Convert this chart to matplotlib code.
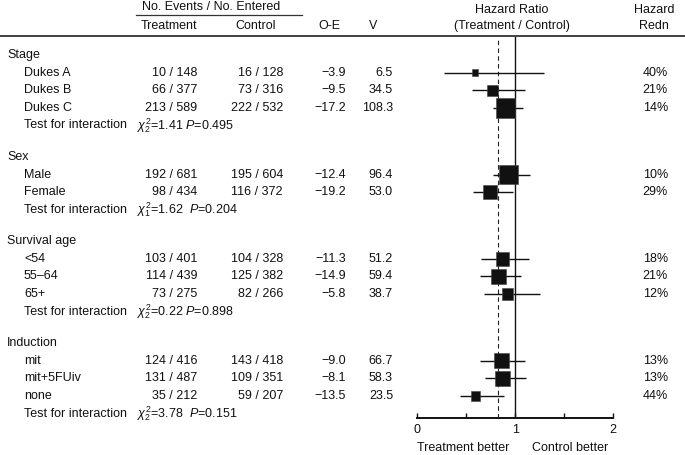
import matplotlib
matplotlib.use("Agg")
import matplotlib.pyplot as plt
import numpy as np

plt.rcParams['font.family'] = ['Liberation Sans', 'DejaVu Sans']
plt.rcParams['mathtext.fontset'] = 'custom'
plt.rcParams['mathtext.rm'] = 'Liberation Sans'
plt.rcParams['mathtext.it'] = 'Liberation Sans:italic'
plt.rcParams['mathtext.bf'] = 'Liberation Sans:bold'

# ---------------- data ----------------
groups = ["Stage", "Sex", "Survival age", "Induction"]
subgroups = [["Dukes A", "Dukes B", "Dukes C"],
             ["Male", "Female"],
             ["<54", "55–64", "65+"],
             ["mit", "mit+5FUiv", "none"]]
trt_events = [10, 66, 213, 192, 98, 103, 114, 73, 124, 131, 35]
trt_n = [148, 377, 589, 681, 434, 401, 439, 275, 416, 487, 212]
ctl_events = [16, 73, 222, 195, 116, 104, 125, 82, 143, 109, 59]
ctl_n = [128, 316, 532, 604, 372, 328, 382, 266, 418, 351, 207]
o_minus_e = [-3.9, -9.5, -17.2, -12.4, -19.2, -11.3, -14.9, -5.8, -9.0, -8.1, -13.5]
variance = [6.5, 34.5, 108.3, 96.4, 53.0, 51.2, 59.4, 38.7, 66.7, 58.3, 23.5]
hr = [0.59, 0.77, 0.90, 0.93, 0.74, 0.87, 0.83, 0.92, 0.86, 0.87, 0.59]
ci_lo = [0.27, 0.56, 0.77, 0.77, 0.57, 0.65, 0.64, 0.68, 0.64, 0.69, 0.44]
ci_hi = [1.29, 1.10, 1.08, 1.15, 0.98, 1.14, 1.06, 1.25, 1.10, 1.11, 0.88]
redn = [40, 21, 14, 10, 29, 18, 21, 12, 13, 13, 44]
test_df = [2, 1, 2, 2]
test_chi = [1.41, 1.62, 0.22, 3.78]
test_p = [0.495, 0.204, 0.898, 0.151]
test_sep = [" ", "  ", " ", "  "]
overall_hr = 0.82
xticks_major = [0, 1, 2]
xticks_minor = [0.5, 1.5]

# ---------------- layout ----------------
W, H = 685, 455
fig = plt.figure(figsize=(W / 100, H / 100), dpi=100)
tax = fig.add_axes([0, 0, 1, 1])
tax.set_xlim(0, W)
tax.set_ylim(H, 0)
tax.axis('off')

x0_px, x2_px = 417.3, 613.3
axis_y, top_y = 418, 37
fax = fig.add_axes([x0_px / W, (H - axis_y) / H, (x2_px - x0_px) / W, (axis_y - top_y) / H])
fax.set_xlim(0, 2)
fax.set_ylim(axis_y, top_y)
fax.patch.set_visible(False)
for s in ['top', 'left', 'right']:
    fax.spines[s].set_visible(False)
fax.spines['bottom'].set_linewidth(1.4)
fax.spines['bottom'].set_color('#111111')
fax.set_yticks([])
fax.set_xticks(xticks_major)
fax.set_xticks(xticks_minor, minor=True)
fax.set_xticklabels([str(t) for t in xticks_major])
fax.tick_params(axis='x', which='both', direction='in', length=3.5, width=1.0,
                color='#111111', labelsize=9, pad=4, labelcolor='#111111')

fs = 9
tc = '#111111'
row_step = 17.6
group_gap = 31.5

# header
tax.text(211, 7, "No. Events / No. Entered", ha='center', va='center', fontsize=fs, color=tc)
tax.plot([136, 302], [15, 15], color='#333333', lw=0.9)
tax.text(169, 26, "Treatment", ha='center', va='center', fontsize=fs, color=tc)
tax.text(256, 26, "Control", ha='center', va='center', fontsize=fs, color=tc)
tax.text(329, 26, "O-E", ha='center', va='center', fontsize=fs, color=tc)
tax.text(373, 26, "V", ha='center', va='center', fontsize=fs, color=tc)
tax.text(512, 10, "Hazard Ratio", ha='center', va='center', fontsize=fs, color=tc)
tax.text(512, 26, "(Treatment / Control)", ha='center', va='center', fontsize=fs, color=tc)
tax.text(654, 10, "Hazard", ha='center', va='center', fontsize=fs, color=tc)
tax.text(654, 26, "Redn", ha='center', va='center', fontsize=fs, color=tc)
tax.plot([0, W], [36, 36], color='#333333', lw=1.3)

# reference lines
fax.axvline(1, color='#111111', lw=1.0)
fax.axvline(overall_hr, color='#222222', lw=0.8, ls=(0, (4, 3)))

# rows
y = 55
k = 0
row_y = []
for g, subs in enumerate(subgroups):
    tax.text(7, y, groups[g], ha='left', va='center', fontsize=fs, color=tc)
    for name in subs:
        y += row_step
        row_y.append(y)
        tax.text(24, y, name, ha='left', va='center', fontsize=fs, color=tc)
        tax.text(197.5, y, f"{trt_events[k]} / {trt_n[k]}", ha='right', va='center', fontsize=fs, color=tc)
        tax.text(283, y, f"{ctl_events[k]} / {ctl_n[k]}", ha='right', va='center', fontsize=fs, color=tc)
        tax.text(346, y, f"{o_minus_e[k]:.1f}".replace('-', '\u2212'), ha='right', va='center', fontsize=fs, color=tc)
        tax.text(393, y, f"{variance[k]:.1f}", ha='right', va='center', fontsize=fs, color=tc)
        tax.text(668, y, f"{redn[k]}%", ha='right', va='center', fontsize=fs, color=tc)
        k += 1
    y += row_step
    tax.text(24, y, "Test for interaction", ha='left', va='center', fontsize=fs, color=tc)
    tax.text(137, y, rf"$\chi^2_{test_df[g]}$={test_chi[g]:.2f}{test_sep[g]}$P$={test_p[g]:.3f}",
             ha='left', va='center', fontsize=fs, color=tc)
    y += group_gap

row_y = np.array(row_y)
fax.hlines(row_y, ci_lo, ci_hi, color='#111111', lw=1.0, zorder=3)
side_px = np.maximum(1.9 * np.sqrt(np.array(variance)), 6.7)
side_pt = side_px * 72 / 100
fax.scatter(hr, row_y, marker='s', s=side_pt ** 2, color='#111111',
            edgecolors='#444444', linewidths=0.4, zorder=4, clip_on=False)

tax.text(463, 448, "Treatment better", ha='center', va='center', fontsize=fs, color=tc)
tax.text(570, 448, "Control better", ha='center', va='center', fontsize=fs, color=tc)

fig.savefig("out.png", dpi=100)
